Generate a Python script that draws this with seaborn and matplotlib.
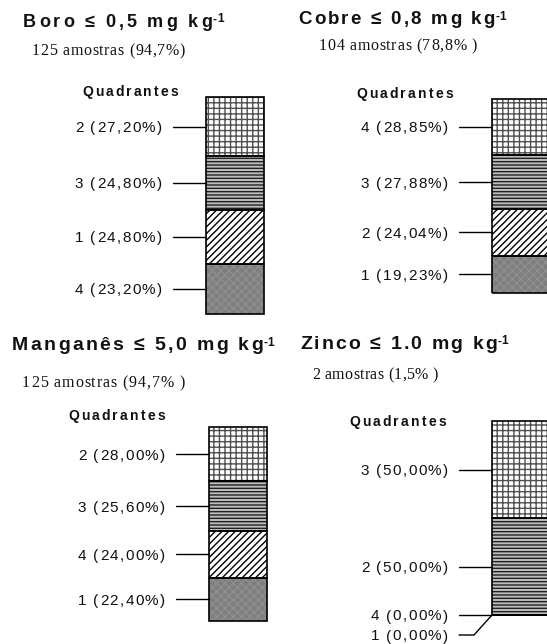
import matplotlib
matplotlib.use("Agg")
import matplotlib.pyplot as plt
import seaborn as sns
import numpy as np
from matplotlib import font_manager
from matplotlib.ft2font import FT2Font
from matplotlib.lines import Line2D

W, H, DPI = 547, 644, 100

# quadrant values, listed from the bottom of the stack to the top
boro_quad = ["4", "1", "3", "2"]
boro_pct = [23.20, 24.80, 24.80, 27.20]
cobre_quad = ["1", "2", "3", "4"]
cobre_pct = [19.23, 24.04, 27.88, 28.85]
mn_quad = ["1", "4", "3", "2"]
mn_pct = [22.40, 24.00, 25.60, 28.00]
zn_quad = ["1", "4", "2", "3"]
zn_pct = [0.00, 0.00, 50.00, 50.00]

titles = ["Boro ≤ 0,5 mg kg", "Cobre ≤ 0,8 mg kg", "Manganês ≤ 5,0 mg kg", "Zinco ≤ 1.0 mg kg"]
subtitles = ["125 amostras (94,7%)", "104 amostras (78,8% )",
             "125 amostras (94,7% )", "2 amostras (1,5% )"]
header = "Quadrantes"

# fill style per stack position (bottom -> top): face, hatch, hatch colour
STYLES = [
    ("#7e7e7e", "xxxx", "#8e8e8e"),
    ("white", "/////", "black"),
    ("#bdbdbd", "-----", "#202020"),
    ("white", "+++", "#505050"),
]

# layout in pixels (y measured from the top)
PANELS = [
    dict(quad=boro_quad, pct=boro_pct, title_x=(23, 212), title_y=27, title_size=13,
         sub_x=(32, 185), sub_y=55, head_x=(82, 178), head_y=96, bar=(206, 97, 264, 314)),
    dict(quad=cobre_quad, pct=cobre_pct, title_x=(298, 495), title_y=24, title_size=13.5,
         sub_x=(319, 477), sub_y=50, head_x=(356, 453), head_y=98, bar=(492, 99, 550, 293)),
    dict(quad=mn_quad, pct=mn_pct, title_x=(12, 263), title_y=350, title_size=14,
         sub_x=(22, 185), sub_y=387, head_x=(68, 165), head_y=420, bar=(209, 427, 267, 621)),
    dict(quad=zn_quad, pct=zn_pct, title_x=(300, 497), title_y=349, title_size=14,
         sub_x=(312, 438), sub_y=379, head_x=(349, 446), head_y=426, bar=(492, 421, 550, 615)),
]

sns.set_style("white")
plt.rcParams["hatch.linewidth"] = 1.0

fig = plt.figure(figsize=(W / DPI, H / DPI), dpi=DPI)
fig.patch.set_facecolor("white")

_fonts = {}


def advances(s, family, weight, size):
    key = (family, weight, size)
    if key not in _fonts:
        fp = font_manager.FontProperties(family=family, weight=weight, size=size)
        ft = FT2Font(font_manager.findfont(fp))
        ft.set_size(size, DPI)
        _fonts[key] = ft
    ft = _fonts[key]
    return [ft.load_char(ord(c)).linearHoriAdvance / 65536 for c in s]


def spaced(x, y, s, size, weight="normal", family="Liberation Sans", track=0.0,
           width=None, ha="left", color="#111111"):
    # letter-spaced text, x/y in pixels with y measured upward
    adv = advances(s, family, weight, size)
    if width is not None:
        track = (width - sum(adv)) / max(len(s) - 1, 1)
    total = sum(adv) + track * (len(s) - 1)
    if ha == "right":
        x -= total
    for c, a in zip(s, adv):
        if c != " ":
            fig.text(x / W, y / H, c, fontsize=size, fontweight=weight, family=family,
                     ha="left", va="baseline", color=color)
        x += a + track
    return x


def leader(xs, ys):
    fig.add_artist(Line2D(np.array(xs) / W, np.array(ys) / H, color="black", lw=1))


for i, p in enumerate(PANELS):
    left, top, right, bottom = p["bar"]
    ax = fig.add_axes([left / W, 1 - bottom / H, (right - left) / W, (bottom - top) / H])
    pct = np.array(p["pct"])
    bottoms = np.concatenate([[0], np.cumsum(pct)[:-1]])

    for k, (v, b) in enumerate(zip(pct, bottoms)):
        face, hatch, hcol = STYLES[k]
        sns.barplot(x=[0], y=[v], bottom=b, width=1, color=face, saturation=1,
                    hatch=hatch, edgecolor=hcol, linewidth=0, ax=ax)
    for v, b in zip(pct, bottoms):
        sns.barplot(x=[0], y=[v], bottom=b, width=1, fill=False, color="black",
                    linewidth=1.2, clip_on=False, ax=ax)
    ax.set_xlim(-0.5, 0.5)
    ax.set_ylim(0, 100)
    ax.axis("off")

    # segment labels with leader lines
    n = len(pct)
    for k, (q, v, b) in enumerate(zip(p["quad"], pct, bottoms)):
        ypix = ax.transData.transform((0, b + v / 2))[1]
        drop = 0
        if v == 0:
            drop = sum(1 for j in range(k + 1, n) if pct[j] == 0 and bottoms[j] == b) * 20
        if drop:
            leader([left - 33, left - 18, left], [ypix - drop, ypix - drop, ypix])
        else:
            leader([left - 33, left], [ypix, ypix])
        label = f"{q} ({v:.2f}%)".replace(".", ",")
        spaced(left - 44, ypix - drop - 5.5, label, 11, track=1.4, ha="right")

    # title with superscript, sample count, header
    x0, x1 = p["title_x"]
    ty = H - p["title_y"]
    xe = spaced(x0, ty, titles[i], p["title_size"], weight="bold", width=x1 - x0)
    spaced(xe - 2, ty + 4.5, "-1", 8.5, weight="bold", track=0.5)
    sx0, sx1 = p["sub_x"]
    spaced(sx0, H - p["sub_y"], subtitles[i], 11.5, family="Liberation Serif", width=sx1 - sx0)
    hx0, hx1 = p["head_x"]
    spaced(hx0, H - p["head_y"], header, 10, weight="bold", width=hx1 - hx0)

fig.savefig("out.png", dpi=DPI, facecolor="white")
